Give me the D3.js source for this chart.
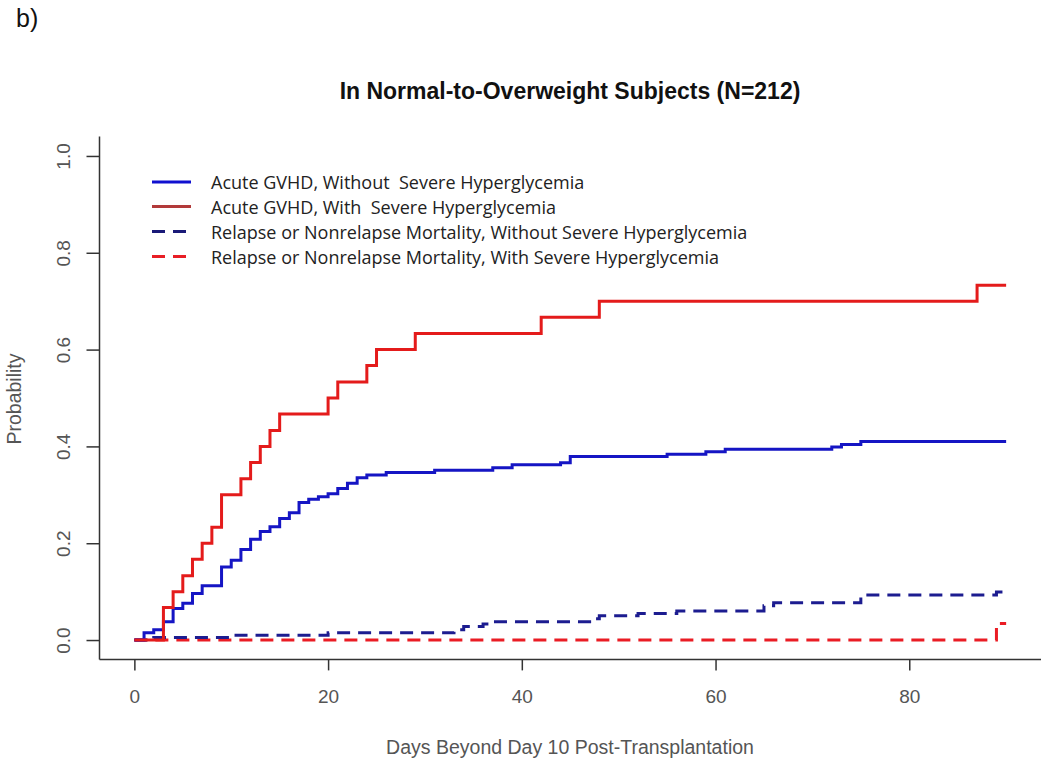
<!DOCTYPE html>
<html>
<head>
<meta charset="utf-8">
<script src="https://cdn.jsdelivr.net/npm/d3@7"></script>
<style>
  html, body { margin: 0; padding: 0; background: #fff; }
  svg { display: block; font-family: "Liberation Sans", Arial, sans-serif; }
</style>
</head>
<body>
<svg id="chart" width="1050" height="771"></svg>
<script>
// ---------- data ----------
const gvhdNoHyperDays = [0, 1, 2, 3, 4, 5, 6, 7, 9, 10, 11, 12, 13, 14, 15, 16, 17, 18, 19, 20, 21, 22, 23, 24, 26, 31, 37, 39, 44, 45, 55, 59, 61, 72, 73, 75, 90];
const gvhdNoHyperProb = [0, 0.015, 0.021, 0.038, 0.065, 0.076, 0.096, 0.112, 0.151, 0.165, 0.187, 0.208, 0.224, 0.234, 0.251, 0.263, 0.284, 0.291, 0.296, 0.302, 0.313, 0.324, 0.335, 0.341, 0.346, 0.351, 0.356, 0.362, 0.366, 0.379, 0.384, 0.389, 0.394, 0.399, 0.404, 0.410, 0.410];

const gvhdHyperDays = [0, 3, 4, 5, 6, 7, 8, 9, 11, 12, 13, 14, 15, 20, 21, 24, 25, 29, 42, 48, 87, 90];
const gvhdHyperProb = [0, 0.067, 0.1, 0.133, 0.167, 0.2, 0.233, 0.3, 0.333, 0.367, 0.4, 0.433, 0.467, 0.5, 0.533, 0.567, 0.6, 0.633, 0.667, 0.7, 0.733, 0.733];

const relNoHyperDays = [0, 2, 10, 20, 33, 34, 36, 37, 47, 48, 52, 56, 65, 66, 75, 89, 90];
const relNoHyperProb = [0, 0.005, 0.010, 0.015, 0.021, 0.028, 0.033, 0.038, 0.044, 0.050, 0.055, 0.060, 0.071, 0.077, 0.093, 0.099, 0.099];

const relHyperDays = [0, 89, 90];
const relHyperProb = [0, 0.034, 0.034];

const xTicks = [0, 20, 40, 60, 80];
const yTicks = [0.0, 0.2, 0.4, 0.6, 0.8, 1.0];

const legendLabels = [
  "Acute GVHD, Without  Severe Hyperglycemia",
  "Acute GVHD, With  Severe Hyperglycemia",
  "Relapse or Nonrelapse Mortality, Without Severe Hyperglycemia",
  "Relapse or Nonrelapse Mortality, With Severe Hyperglycemia"
];

const titleText = "In Normal-to-Overweight Subjects (N=212)";
const xLabel = "Days Beyond Day 10 Post-Transplantation";
const yLabel = "Probability";
const panelLabel = "b)";

// ---------- layout ----------
const svg = d3.select("#chart");
const x = d3.scaleLinear().domain([-3.6, 93.6]).range([99.5, 1041]);
const y = d3.scaleLinear().domain([-0.04, 1.04]).range([659.4, 136.6]);

const series = [
  { days: gvhdNoHyperDays, prob: gvhdNoHyperProb, color: "#1515c4", legendColor: "#1010d0", dash: null },
  { days: gvhdHyperDays, prob: gvhdHyperProb, color: "#e41b1b", legendColor: "#b23a3a", dash: null },
  { days: relNoHyperDays, prob: relNoHyperProb, color: "#1c1c90", legendColor: "#1a1a78", dash: "13,8" },
  { days: relHyperDays, prob: relHyperProb, color: "#ea1c24", legendColor: "#e81e25", dash: "13,8" }
];

// panel label
svg.append("text").attr("x", 16).attr("y", 27)
  .attr("font-size", 25).attr("fill", "#111").text(panelLabel);

// title
svg.append("text").attr("x", 570).attr("y", 99)
  .attr("text-anchor", "middle").attr("font-size", 23).attr("font-weight", "bold")
  .attr("fill", "#111").text(titleText);

// axes (L-shaped box)
const axisColor = "#333";
svg.append("line").attr("x1", x(-3.6)).attr("x2", x(-3.6)).attr("y1", y(-0.04)).attr("y2", y(1.04))
  .attr("stroke", axisColor).attr("stroke-width", 1.5);
svg.append("line").attr("x1", x(-3.6)).attr("x2", x(93.6)).attr("y1", y(-0.04)).attr("y2", y(-0.04))
  .attr("stroke", axisColor).attr("stroke-width", 1.5);

const yAxis = d3.axisLeft(y).tickValues(yTicks).tickFormat(d3.format(".1f")).tickSize(13).tickSizeOuter(0);
const gy = svg.append("g").attr("transform", `translate(${x(-3.6)},0)`).call(yAxis);
gy.select(".domain").remove();
gy.selectAll(".tick line").attr("stroke", axisColor).attr("stroke-width", 1.5);
gy.selectAll(".tick text").remove();
gy.selectAll(".tick").append("text")
  .attr("transform", "translate(-36,0) rotate(-90)")
  .attr("text-anchor", "middle").attr("dominant-baseline", "central")
  .attr("font-size", 19).attr("fill", "#555")
  .attr("font-family", "Liberation Sans, Arial, sans-serif")
  .text(d => d3.format(".1f")(d));

const xAxis = d3.axisBottom(x).tickValues(xTicks).tickSize(11).tickSizeOuter(0);
const gx = svg.append("g").attr("transform", `translate(0,${y(-0.04)})`).call(xAxis);
gx.select(".domain").remove();
gx.selectAll(".tick line").attr("stroke", axisColor).attr("stroke-width", 1.5);
gx.selectAll(".tick text").attr("font-size", 19).attr("fill", "#555")
  .attr("font-family", "Liberation Sans, Arial, sans-serif")
  .attr("dy", null).attr("y", 44);

// axis labels
svg.append("text").attr("x", 570).attr("y", 754).attr("text-anchor", "middle")
  .attr("font-size", 19.5).attr("fill", "#555").text(xLabel);
svg.append("text").attr("transform", "translate(21,399) rotate(-90)")
  .attr("text-anchor", "middle").attr("font-size", 19.5).attr("fill", "#555").text(yLabel);

// curves
const line = d3.line().x(d => x(d[0])).y(d => y(d[1])).curve(d3.curveStepAfter);
const drawOrder = [3, 2, 0, 1];
drawOrder.forEach(i => {
  const s = series[i];
  const pts = s.days.map((d, k) => [d, s.prob[k]]);
  svg.append("path").datum(pts).attr("d", line)
    .attr("fill", "none").attr("stroke", s.color).attr("stroke-width", 3)
    .attr("stroke-dasharray", s.dash).attr("stroke-linejoin", "miter").attr("stroke-linecap", "butt");
});

// legend
const legY = [182, 206.5, 231.5, 256.5];
series.forEach((s, i) => {
  svg.append("line").attr("x1", 152).attr("x2", 191).attr("y1", legY[i]).attr("y2", legY[i])
    .attr("stroke", s.legendColor).attr("stroke-width", 3).attr("stroke-dasharray", s.dash);
  svg.append("text").attr("x", 211).attr("y", legY[i]).attr("dominant-baseline", "central")
    .attr("font-size", 18).attr("fill", "#222").style("white-space", "pre")
    .attr("font-family", "Open Sans, Liberation Sans, sans-serif")
    .text(legendLabels[i]);
});
</script>
</body>
</html>
